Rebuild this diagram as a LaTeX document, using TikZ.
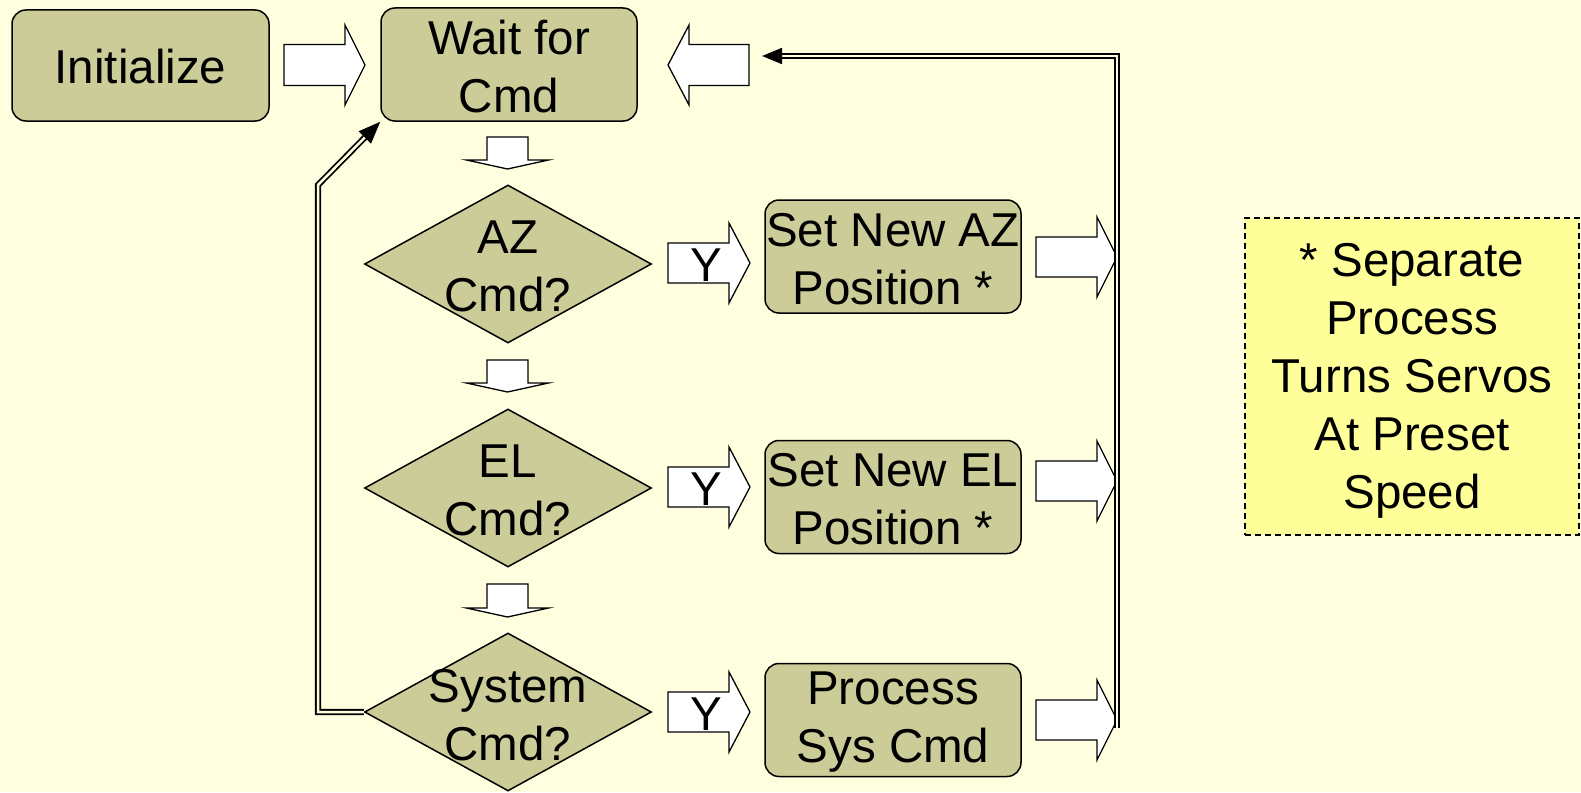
\documentclass[tikz,border=0pt]{standalone}
\usepackage{fontspec}
\setmainfont{Liberation Sans}
\usetikzlibrary{shapes.geometric,arrows.meta}
\definecolor{bgcol}{HTML}{FFFFE0}
\definecolor{khaki}{HTML}{CCCC99}
\definecolor{notey}{HTML}{FFFF99}
\newcommand\blkR[6]{\draw[blockarrow] (#1,#2-#5) -- (#3,#2-#5) -- (#3,#2-#6) -- (#4,#2) -- (#3,#2+#6) -- (#3,#2+#5) -- (#1,#2+#5) -- cycle;}
\newcommand\blkD[6]{\draw[blockarrow] (#1-#5,#2) -- (#1-#5,#3) -- (#1-#6,#3) -- (#1,#4) -- (#1+#6,#3) -- (#1+#5,#3) -- (#1+#5,#2) -- cycle;}
\tikzset{
  bigfont/.style={font=\fontsize{47.5}{58}\selectfont},
  procbox/.style={draw, line width=1.5pt, fill=khaki, rounded corners=14pt, minimum width=256pt, minimum height=113pt, inner sep=0pt},
  boxtext/.style={align=center, inner sep=0pt, bigfont},
  dia/.style={draw, line width=1.5pt, fill=khaki, shape=diamond, minimum width=287pt, minimum height=158pt, inner sep=0pt},
  blockarrow/.style={draw, fill=white, line width=1.3pt, line join=miter},
  ylab/.style={inner sep=0pt, bigfont},
  bus/.style={double=bgcol, double distance=2.5pt, line width=1.8pt},
  note/.style={draw, dash pattern=on 6pt off 4pt, line width=1.4pt, fill=notey, minimum width=334pt, minimum height=317pt, inner sep=0pt}
}
\begin{document}
\begin{tikzpicture}[x=1pt,y=-1pt]
\fill[bgcol] (0,0) rectangle (1581,792);
\useasboundingbox (0,0) rectangle (1581,792);

\node[procbox, minimum width=257pt, minimum height=111pt] (init) at (140.5,65.5) {};
\node[boxtext] (initt) at ([yshift=-1pt]init.center) {Initialize};
\node[procbox] (wait) at (509,64.5) {};
\node[boxtext] (waitt) at ([yshift=-2.5pt]wait.center) {Wait for\\Cmd};

\node[dia] (az) at (508,264) {};
\node[boxtext] (azt) at ([yshift=-2pt]az.center) {AZ\\Cmd?};
\node[dia] (el) at (508,488) {};
\node[boxtext] (elt) at ([yshift=-2pt]el.center) {EL\\Cmd?};
\node[dia] (sys) at (508,712) {};
\node[boxtext] (syst) at ([yshift=-3pt]sys.center) {System\\Cmd?};

\node[procbox] (setaz) at (893,256.5) {};
\node[boxtext] (setazt) at ([yshift=-2.5pt]setaz.center) {Set New AZ\\Position *};
\node[procbox] (setel) at (893,497) {};
\node[boxtext] (setelt) at ([yshift=-2.5pt]setel.center) {Set New EL\\Position *};
\node[procbox] (procsys) at (893,720) {};
\node[boxtext] (procsyst) at ([yshift=-2.5pt]procsys.center) {Process\\Sys Cmd};

\node[note] (notebox) at (1412,376.5) {};
\node[boxtext] (notet) at ([yshift=-4pt]notebox.center) {* Separate\\Process\\Turns Servos\\At Preset\\Speed};

% block arrows
\blkR{284}{65}{345}{365}{20.5}{40}
\blkR{749}{65}{689}{668}{20.5}{40}
\blkD{507.5}{137}{160}{169}{20.5}{41}
\blkD{507.5}{360}{383}{392}{20.5}{41}
\blkD{507.5}{584}{608}{617}{20.5}{41}
\blkR{668}{263}{729}{750}{20}{40}
\blkR{668}{487}{729}{750}{20}{40}
\blkR{668}{712}{729}{750}{20}{40}
\node[ylab] (y1) at (706,265) {Y};
\node[ylab] (y2) at (706,489) {Y};
\node[ylab] (y3) at (706,714) {Y};
\blkR{1036}{257}{1097}{1117}{20}{40}
\blkR{1036}{481}{1097}{1117}{20}{40}
\blkR{1036}{720}{1097}{1117}{20}{40}

% return bus
\coordinate (busbot) at (1117,728);
\coordinate (bustop) at (1117,56);
\coordinate (busend) at (762,56);
\draw[bus, -{Triangle[length=20pt,width=16pt]}] (busbot) -- (bustop) -- (busend);

% loop back from system diamond
\coordinate (lb) at (318,712);
\coordinate (lt) at (318,185);
\draw[bus, -{Triangle[length=22pt,width=17pt]}] (sys.west) -- (lb) -- (lt) -- (wait.south west);
\end{tikzpicture}
\end{document}
